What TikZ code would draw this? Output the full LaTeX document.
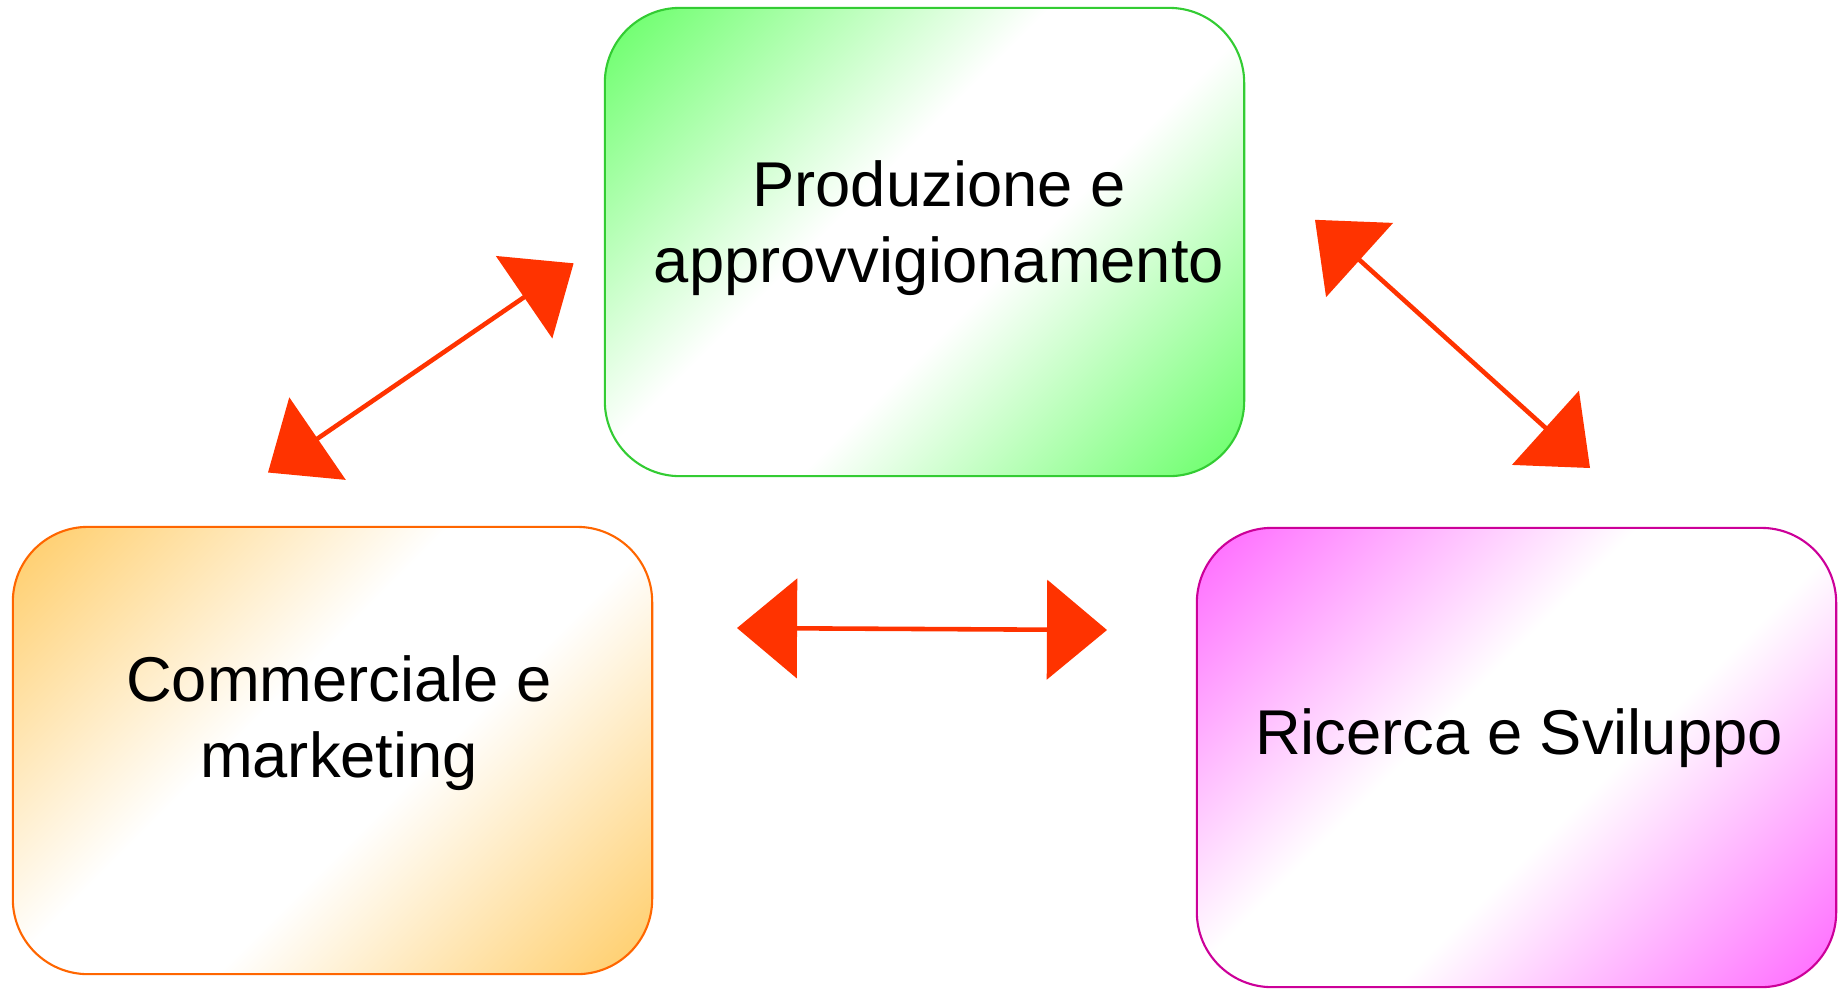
\documentclass[tikz,border=0pt]{standalone}
\usepackage{fontspec}
\setmainfont{Liberation Sans}
\usetikzlibrary{positioning, arrows.meta}
\definecolor{prodfill}{HTML}{66FF66}
\definecolor{proddraw}{HTML}{33CC33}
\definecolor{commfill}{HTML}{FFCC66}
\definecolor{commdraw}{HTML}{FF6600}
\definecolor{ricfill}{HTML}{FF66FF}
\definecolor{ricdraw}{HTML}{CC0099}
\definecolor{linkred}{HTML}{FF3300}
\pgfdeclareverticalshading{prodshade}{100bp}{color(0bp)=(prodfill); color(14.6bp)=(prodfill); color(43bp)=(white); color(57bp)=(white); color(85.4bp)=(prodfill); color(100bp)=(prodfill)}
\pgfdeclareverticalshading{commshade}{100bp}{color(0bp)=(commfill); color(14.6bp)=(commfill); color(43bp)=(white); color(57bp)=(white); color(85.4bp)=(commfill); color(100bp)=(commfill)}
\pgfdeclareverticalshading{ricshade}{100bp}{color(0bp)=(ricfill); color(14.6bp)=(ricfill); color(43bp)=(white); color(57bp)=(white); color(85.4bp)=(ricfill); color(100bp)=(ricfill)}
\tikzstyle{box} = [rectangle, rounded corners=0.75cm, draw, line width=0.6pt, inner sep=0pt, shading angle=45]
\tikzstyle{boxtext} = [align=center, inner sep=0pt, font=\fontsize{18}{21.6}\selectfont]
\tikzstyle{link} = [line width=1.3pt, draw=linkred, {Triangle[length=0.6cm, width=0.99cm, fill=linkred]}-{Triangle[length=0.6cm, width=0.99cm, fill=linkred]}]

\begin{document}
\begin{tikzpicture}[x=0.01cm, y=-0.01cm]
  \useasboundingbox (0,0) rectangle (1843,990);

  % Boxes
  \node (prod) [box, draw=proddraw, shading=prodshade, minimum width=6.39cm, minimum height=4.68cm] at (924.5,242) {};
  \node (comm) [box, draw=commdraw, shading=commshade, minimum width=6.39cm, minimum height=4.47cm] at (332.5,750.5) {};
  \node (ric) [box, draw=ricdraw, shading=ricshade, minimum width=6.39cm, minimum height=4.59cm] at (1516.5,757.5) {};

  % Texts
  \node (prod_text) [boxtext] at (939,228) {Produzione e\\approvvigionamento};
  \node (comm_text) [boxtext] at (339,723) {Commerciale e\\marketing};
  \node (ric_text) [boxtext] at (1519,738) {Ricerca e Sviluppo};

  % Arrow ends
  \coordinate (comm_end) at (268,472.5);
  \coordinate (prod_left) at (573.6,263.3);
  \coordinate (mid_left) at (737,628);
  \coordinate (mid_right) at (1107,630);
  \coordinate (prod_right) at (1315,219.8);
  \coordinate (ric_end) at (1590,468);

  % Arrows
  \draw[link] (comm_end) -- (prod_left);
  \draw[link] (mid_left) -- (mid_right);
  \draw[link] (prod_right) -- (ric_end);

\end{tikzpicture}
\end{document}
